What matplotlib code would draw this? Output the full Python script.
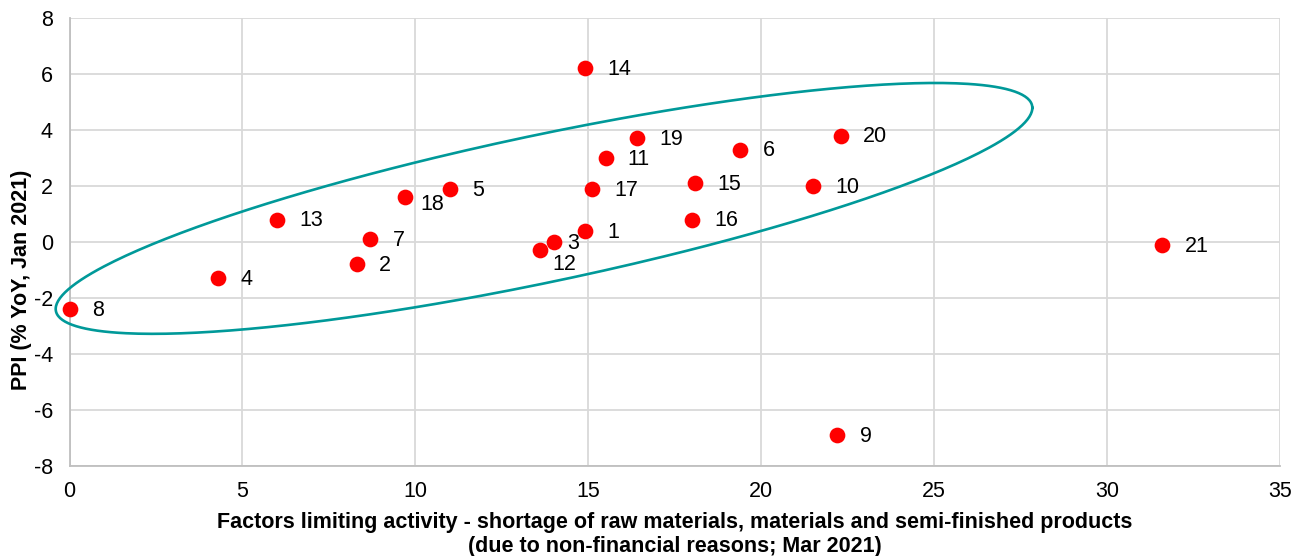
import numpy as np
import matplotlib.pyplot as plt

plt.rcParams['font.family'] = ['Liberation Sans', 'DejaVu Sans']
plt.rcParams['axes.unicode_minus'] = False

labels = [str(i) for i in range(1, 22)]
shortage = [14.9, 8.3, 14.0, 4.3, 11.0, 19.4, 8.7, 0.0, 22.2, 21.5, 15.5,
            13.6, 6.0, 14.9, 18.1, 18.0, 15.1, 9.7, 16.4, 22.3, 31.6]
ppi = [0.4, -0.8, 0.0, -1.3, 1.9, 3.3, 0.1, -2.4, -6.9, 2.0, 3.0,
       -0.3, 0.8, 6.2, 2.1, 0.8, 1.9, 1.6, 3.7, 3.8, -0.1]

# label offsets in points (default: to the right)
label_offsets = {'3': (10, -1), '12': (9, -10), '18': (11, -5)}

fig = plt.figure(figsize=(13.07, 5.56), dpi=100)
ax = fig.add_axes([0.0532, 0.1619, 0.9261, 0.8057])

ax.scatter(shortage, ppi, s=128, color='#FF0000', zorder=3, clip_on=False, linewidths=0)
for x, y, lab in zip(shortage, ppi, labels):
    dx, dy = label_offsets.get(lab, (16, -1))
    ax.annotate(lab, (x, y), xytext=(dx, dy), textcoords='offset points',
                ha='left', va='center', fontsize=15.5, color='black')

# hand-drawn style ellipse around the main cluster
t = np.linspace(0, 2 * np.pi, 400)
ex = 13.72 + 14.12 * np.cos(t)
ey = 1.20 + 3.59 * np.cos(t) + 2.68 * np.sin(t)
ax.plot(ex, ey, color='#009999', lw=1.9, zorder=4, clip_on=False)

ax.set_xlim(0, 35)
ax.set_ylim(-8, 8)
ax.set_xticks(np.arange(0, 36, 5))
ax.set_yticks(np.arange(-8, 9, 2))
ax.grid(True, color='#D9D9D9', lw=1.3)
ax.set_axisbelow(True)
for side in ['top', 'right']:
    ax.spines[side].set_visible(False)
for side in ['left', 'bottom']:
    ax.spines[side].set_color('#BFBFBF')
    ax.spines[side].set_linewidth(1.3)
ax.tick_params(length=0, labelsize=15.5, colors='black')
ax.tick_params(axis='x', pad=11)
ax.tick_params(axis='y', pad=12)

ax.set_xlabel('Factors limiting activity - shortage of raw materials, materials and semi-finished products\n'
              '(due to non-financial reasons; Mar 2021)', fontsize=15.5, fontweight='bold', labelpad=7,
              linespacing=1.2)
ax.set_ylabel('PPI (% YoY, Jan 2021)', fontsize=15.5, fontweight='bold')
ax.yaxis.set_label_coords(-0.031, 0.415)

fig.savefig('out.png', dpi=100)
